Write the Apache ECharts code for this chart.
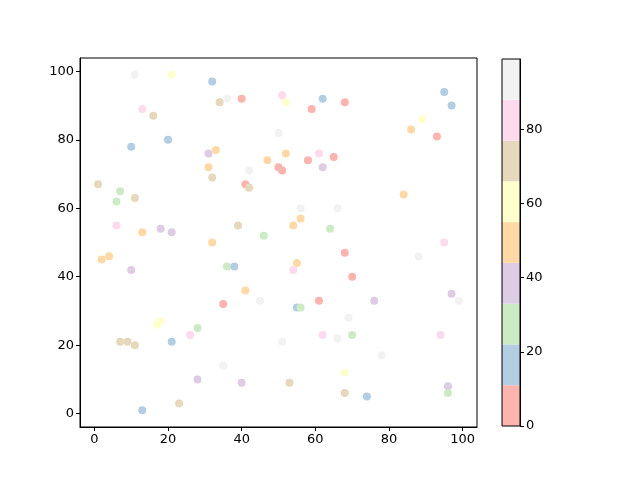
<!DOCTYPE html>
<html><head><meta charset="utf-8">
<script src="https://cdn.jsdelivr.net/npm/echarts@6/dist/echarts.min.js"></script>
<style>html,body{margin:0;padding:0;background:#fff}#c{width:640px;height:480px}</style>
</head><body><div id="c"></div>
<script>
// x, y, colour value (estimated from colour band)
const xs = [11,21,32,34,36,40,13,16,20,10,50,31,33,31,32,42,47,50,51,1,41,42,51,52,52,59,62,68,95,97,89,86,93,61,65,58,62,7,11,6,6,13,18,21,39,46,32,2,4,10,36,38,41,45,35,84,56,66,56,54,64,95,88,68,55,54,70,61,76,97,99,55,56,17,18,28,26,7,9,11,21,35,28,40,23,13,51,62,66,70,69,94,78,68,53,68,74,96,96];
const ys = [99,99,97,91,92,92,89,87,80,78,82,76,77,72,69,71,74,72,71,67,67,66,93,91,76,89,92,91,94,90,86,83,81,76,75,74,72,65,63,62,55,53,54,53,55,52,50,45,46,42,43,43,36,33,32,64,60,60,57,55,54,50,46,47,44,42,40,33,33,35,33,31,31,26,27,25,23,21,21,20,21,14,10,9,3,1,21,23,22,23,28,23,17,12,9,6,5,8,6];
const cs = [93,60,16,71,93,5,82,71,16,16,93,38,49,49,71,93,49,5,5,71,5,71,82,60,49,5,16,5,16,16,60,49,5,82,5,5,38,27,71,27,82,49,38,38,71,27,49,49,49,38,27,16,49,93,5,49,93,93,49,49,27,82,93,5,49,82,5,5,38,38,93,16,27,60,60,27,82,71,71,71,16,93,38,38,71,16,93,82,93,27,93,82,93,60,71,71,16,38,27];
const bandEdges = [0,11,22,33,44,55,66,77,88,99];
const bandColors = ['#fbb4ae','#b3cde3','#ccebc5','#decbe4','#fed9a6','#ffffcc','#e5d8bd','#fddaec','#f2f2f2'];
const mainTicks = [0,20,40,60,80,100];
const cbTicks = [0,20,40,60,80];

function colorOf(v){
  for(let i=0;i<bandColors.length;i++){ if(v>=bandEdges[i] && v<bandEdges[i+1]) return bandColors[i]; }
  return bandColors[bandColors.length-1];
}
const pts = xs.map((x,i)=>({value:[x,ys[i],cs[i]], itemStyle:{color:colorOf(cs[i])}}));
const font = 'DejaVu Sans';
const lbl = {color:'#000', fontSize:13, fontFamily:font};
const bandSeries = bandColors.map((c,i)=>({
  type:'bar', xAxisIndex:1, yAxisIndex:1, stack:'cb', barWidth:'100%',
  data:[bandEdges[i+1]-bandEdges[i]], itemStyle:{color:c}, silent:true, animation:false
}));
const chart = echarts.init(document.getElementById('c'), null, {renderer:'canvas'});
chart.setOption({
  animation:false,
  backgroundColor:'#fff',
  grid:[
    {left:80, top:58, width:397, height:369, show:true, borderColor:'#000', borderWidth:1, backgroundColor:'transparent'},
    {left:502, top:59, width:18, height:367, show:true, borderColor:'#000', borderWidth:1, backgroundColor:'transparent', z:5}
  ],
  xAxis:[
    {type:'value', gridIndex:0, min:-3.9, max:103.9,
     axisLine:{show:true, onZero:false, lineStyle:{color:'#000'}},
     axisTick:{show:true, inside:false, length:4, customValues:mainTicks, lineStyle:{color:'#000'}},
     axisLabel:{...lbl, margin:6, customValues:mainTicks},
     splitLine:{show:false}},
    {type:'category', gridIndex:1, data:['c'], show:false}
  ],
  yAxis:[
    {type:'value', gridIndex:0, min:-3.9, max:103.9,
     axisLine:{show:true, onZero:false, lineStyle:{color:'#000'}},
     axisTick:{show:true, inside:false, length:4, customValues:mainTicks, lineStyle:{color:'#000'}},
     axisLabel:{...lbl, margin:6, customValues:mainTicks},
     splitLine:{show:false}},
    {type:'value', gridIndex:1, position:'right', min:0, max:99,
     axisLine:{show:true, onZero:false, lineStyle:{color:'#000'}},
     axisTick:{show:true, inside:false, length:4, customValues:cbTicks, lineStyle:{color:'#000'}},
     axisLabel:{...lbl, margin:6, customValues:cbTicks},
     splitLine:{show:false}}
  ],
  series:[
    {type:'scatter', xAxisIndex:0, yAxisIndex:0, symbolSize:8, data:pts, itemStyle:{opacity:1}}
  ].concat(bandSeries)
});
</script></body></html>
